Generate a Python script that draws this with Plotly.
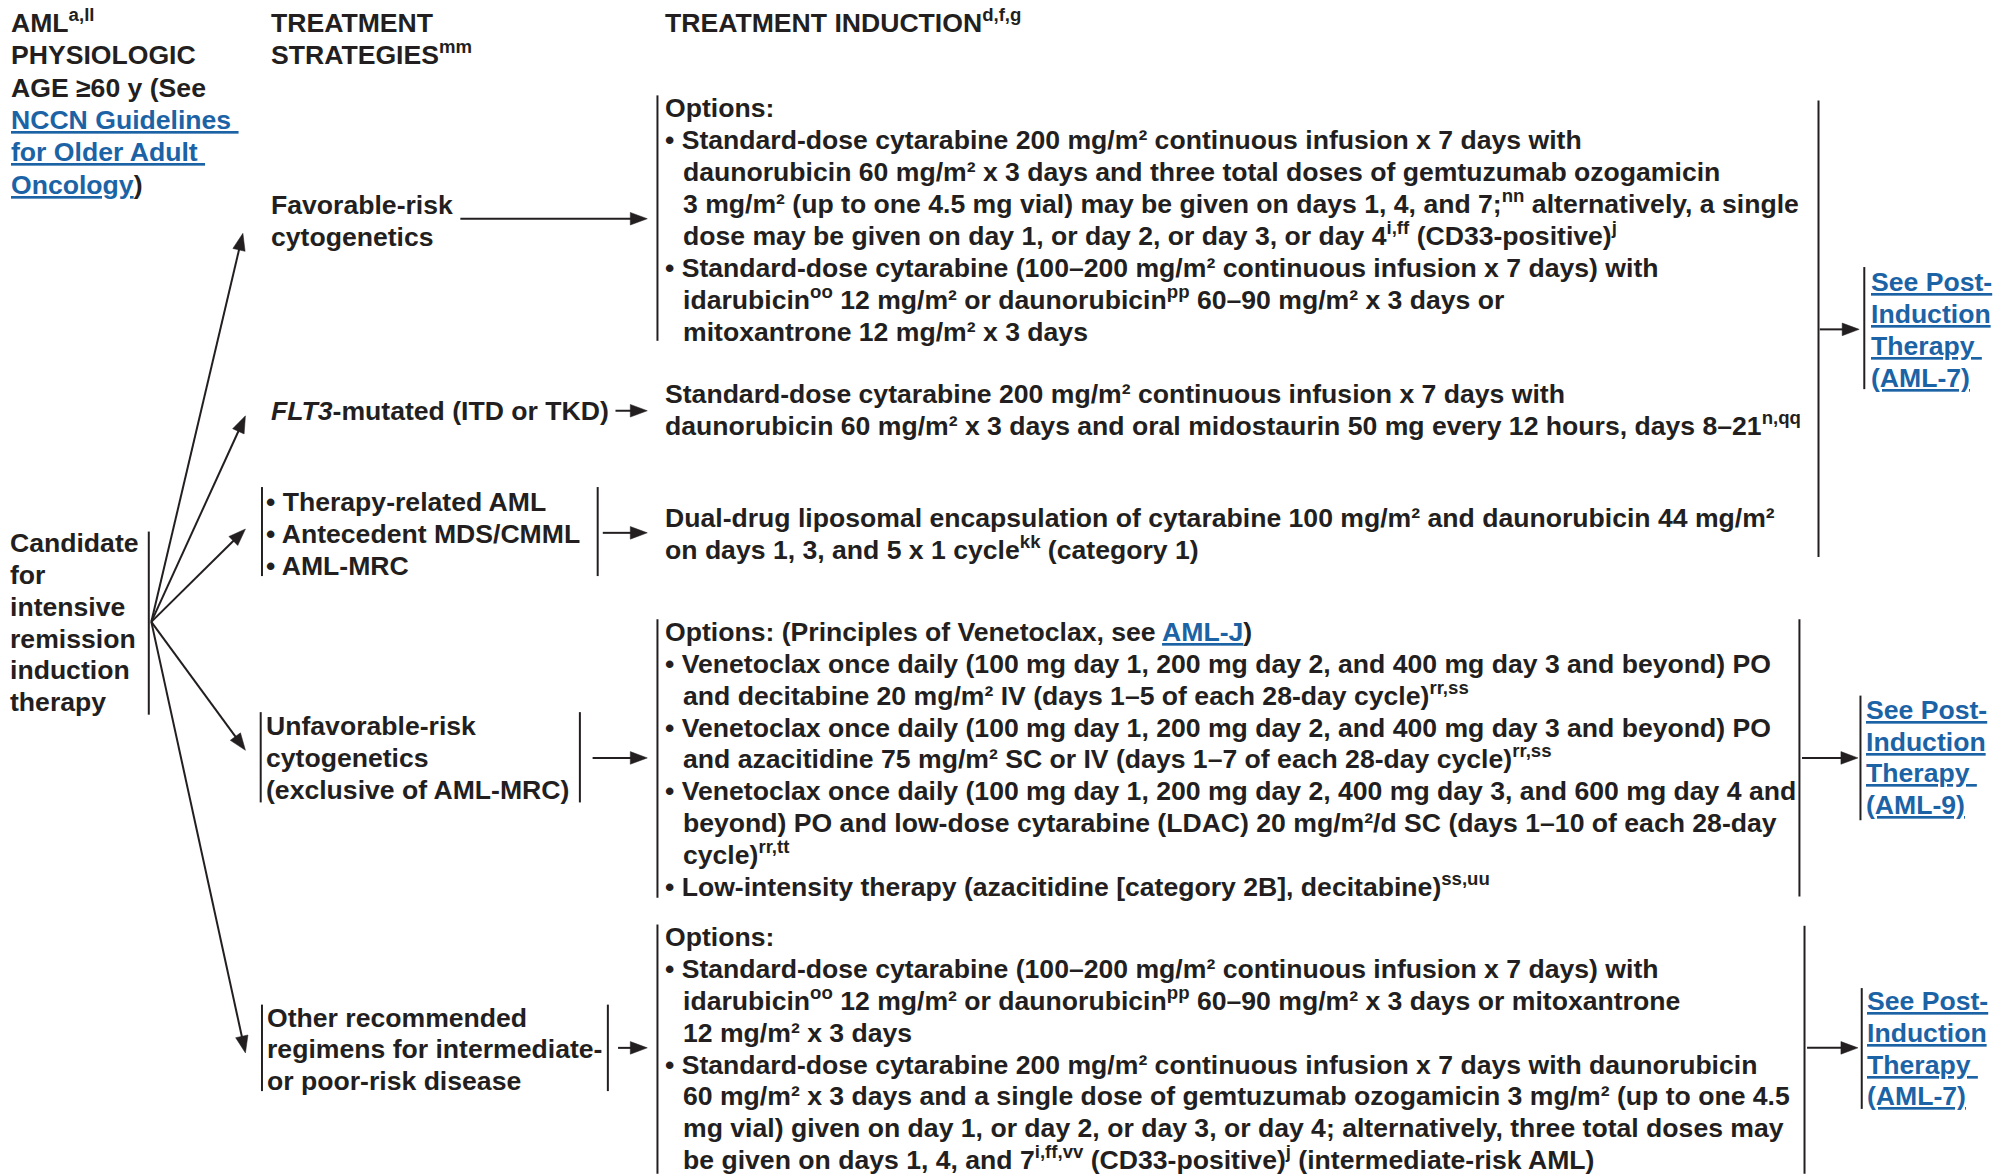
import math
import plotly.graph_objects as go

W, H = 1994, 1174
S = W / 1568.0  # positions below were read on a 1568-wide view of the reference

INK = "#231f20"
LINK = "#1c63a6"
FONT = "Liberation Sans Narrow, Arial Narrow, Liberation Sans, Arial, sans-serif"
FS = 26.6


def link(t):
    return f'<span style="color:{LINK}"><u>{t}</u></span>'


NB = "\u00a0"

# ---------------- text content ----------------
header_col1 = ["AML<sup>a,ll</sup>", "PHYSIOLOGIC", "AGE ≥60 y (See",
               link("NCCN Guidelines" + NB), link("for Older Adult" + NB),
               link("Oncology") + ")"]
header_col2 = ["TREATMENT", "STRATEGIES<sup>mm</sup>"]
header_col3 = ["TREATMENT INDUCTION<sup>d,f,g</sup>"]

root_lines = ["Candidate", "for", "intensive", "remission", "induction", "therapy"]

strat_favorable = ["Favorable-risk", "cytogenetics"]
strat_flt3 = ["<i>FLT3</i>-mutated (ITD or TKD)"]
strat_secondary = ["• Therapy-related AML", "• Antecedent MDS/CMML", "• AML-MRC"]
strat_unfavorable = ["Unfavorable-risk", "cytogenetics", "(exclusive of AML-MRC)"]
strat_other = ["Other recommended", "regimens for intermediate-", "or poor-risk disease"]

# (indent, text): indent 0 = flush, 1 = hanging continuation after a bullet
treat_favorable = [
    (0, "Options:"),
    (0, "• Standard-dose cytarabine 200 mg/m² continuous infusion x 7 days with"),
    (1, "daunorubicin 60 mg/m² x 3 days and three total doses of gemtuzumab ozogamicin"),
    (1, "3 mg/m² (up to one 4.5 mg vial) may be given on days 1, 4, and 7;<sup>nn</sup> alternatively, a single"),
    (1, "dose may be given on day 1, or day 2, or day 3, or day 4<sup>i,ff</sup> (CD33-positive)<sup>j</sup>"),
    (0, "• Standard-dose cytarabine (100–200 mg/m² continuous infusion x 7 days) with"),
    (1, "idarubicin<sup>oo</sup> 12 mg/m² or daunorubicin<sup>pp</sup> 60–90 mg/m² x 3 days or"),
    (1, "mitoxantrone 12 mg/m² x 3 days"),
]
treat_flt3 = [
    (0, "Standard-dose cytarabine 200 mg/m² continuous infusion x 7 days with"),
    (0, "daunorubicin 60 mg/m² x 3 days and oral midostaurin 50 mg every 12 hours, days 8–21<sup>n,qq</sup>"),
]
treat_secondary = [
    (0, "Dual-drug liposomal encapsulation of cytarabine 100 mg/m² and daunorubicin 44 mg/m²"),
    (0, "on days 1, 3, and 5 x 1 cycle<sup>kk</sup> (category 1)"),
]
treat_unfavorable = [
    (0, "Options: (Principles of Venetoclax, see " + link("AML-J") + ")"),
    (0, "• Venetoclax once daily (100 mg day 1, 200 mg day 2, and 400 mg day 3 and beyond) PO"),
    (1, "and decitabine 20 mg/m² IV (days 1–5 of each 28-day cycle)<sup>rr,ss</sup>"),
    (0, "• Venetoclax once daily (100 mg day 1, 200 mg day 2, and 400 mg day 3 and beyond) PO"),
    (1, "and azacitidine 75 mg/m² SC or IV (days 1–7 of each 28-day cycle)<sup>rr,ss</sup>"),
    (0, "• Venetoclax once daily (100 mg day 1, 200 mg day 2, 400 mg day 3, and 600 mg day 4 and"),
    (1, "beyond) PO and low-dose cytarabine (LDAC) 20 mg/m²/d SC (days 1–10 of each 28-day"),
    (1, "cycle)<sup>rr,tt</sup>"),
    (0, "• Low-intensity therapy (azacitidine [category 2B], decitabine)<sup>ss,uu</sup>"),
]
treat_other = [
    (0, "Options:"),
    (0, "• Standard-dose cytarabine (100–200 mg/m² continuous infusion x 7 days) with"),
    (1, "idarubicin<sup>oo</sup> 12 mg/m² or daunorubicin<sup>pp</sup> 60–90 mg/m² x 3 days or mitoxantrone"),
    (1, "12 mg/m² x 3 days"),
    (0, "• Standard-dose cytarabine 200 mg/m² continuous infusion x 7 days with daunorubicin"),
    (1, "60 mg/m² x 3 days and a single dose of gemtuzumab ozogamicin 3 mg/m² (up to one 4.5"),
    (1, "mg vial) given on day 1, or day 2, or day 3, or day 4; alternatively, three total doses may"),
    (1, "be given on days 1, 4, and 7<sup>i,ff,vv</sup> (CD33-positive)<sup>j</sup> (intermediate-risk AML)"),
]
post_aml7 = [link("See Post-"), link("Induction"), link("Therapy" + NB), link("(AML-7)")]
post_aml9 = [link("See Post-"), link("Induction"), link("Therapy" + NB), link("(AML-9)")]

# ---------------- layout (reference coordinates, 1568-wide view) ----------------
# text blocks: (x, first line centre y, line pitch, lines)
text_blocks = [
    (9, 18, 25.4, header_col1),
    (213, 18, 25.2, header_col2),
    (523, 18, 25, header_col3),
    (8, 427, 25, root_lines),
    (213, 161, 25, strat_favorable),
    (213, 323, 25, strat_flt3),
    (209, 395, 25, strat_secondary),
    (209, 571, 25, strat_unfavorable),
    (210, 800, 25, strat_other),
    (1471, 222, 25, post_aml7),
    (1467, 558, 25, post_aml9),
    (1468, 787, 25, post_aml7),
]
option_blocks = [
    (523, 85, 25.1, treat_favorable),
    (523, 310, 25, treat_flt3),
    (523, 407, 25, treat_secondary),
    (523, 497, 25, treat_unfavorable),
    (523, 737, 25, treat_other),
]
HANG = 14  # hanging indent of bullet continuation lines

# vertical rules: (x, y0, y1)
rules = [
    (117, 418, 562),
    (206, 383, 453), (470, 383, 453),
    (205, 560, 631), (456, 560, 631),
    (206, 790, 858), (478, 790, 858),
    (517, 75, 268), (1430, 79, 438), (1466, 210, 306),
    (517, 487, 706), (1415, 487, 705), (1463, 547, 645),
    (517, 727, 923), (1419, 728, 923), (1464, 777, 872),
]

# arrows: (x_from, y_from, x_to, y_to)
fan_origin = (119, 489)
fan_targets = [(191, 183.5), (193, 327), (193, 416), (193, 590), (193, 828)]
h_arrows = [
    (362, 172, 509, 172), (484, 323, 509, 323), (474, 419, 509, 419),
    (466, 596, 509, 596), (486, 824, 509, 824),
    (1431, 259, 1462, 259), (1417, 596, 1461, 596), (1421, 824, 1461, 824),
]

# ---------------- build figure ----------------
fig = go.Figure()
annotations = []
shapes = []

BOTTOM_OFF = 0.57 * FS  # from cap-height middle to bottom of text box


def add_line(x, yc, text):
    px, py = x * S, yc * S + BOTTOM_OFF
    annotations.append(dict(
        x=px / W, y=1 - py / H, xref="paper", yref="paper",
        text=text, showarrow=False, xanchor="left", yanchor="bottom",
        align="left", borderpad=0, borderwidth=0,
        font=dict(family=FONT, size=FS, color=INK, weight="bold"),
    ))


for x, y0, pitch, lines in text_blocks:
    for i, t in enumerate(lines):
        add_line(x, y0 + i * pitch, t)

for x, y0, pitch, lines in option_blocks:
    for i, (ind, t) in enumerate(lines):
        add_line(x + ind * HANG, y0 + i * pitch, t)

for x, y0, y1 in rules:
    shapes.append(dict(type="line", xref="x", yref="y", x0=x * S, x1=x * S,
                       y0=y0 * S, y1=y1 * S, line=dict(color=INK, width=2)))

HEAD_LEN, HEAD_HALF = 17.0, 6.3


def add_arrow(x0, y0, x1, y1):
    X0, Y0, X1, Y1 = x0 * S, y0 * S, x1 * S, y1 * S
    d = math.hypot(X1 - X0, Y1 - Y0)
    ux, uy = (X1 - X0) / d, (Y1 - Y0) / d
    bx, by = X1 - ux * HEAD_LEN, Y1 - uy * HEAD_LEN
    nx, ny = -uy * HEAD_HALF, ux * HEAD_HALF
    shapes.append(dict(type="line", xref="x", yref="y", x0=X0, y0=Y0,
                       x1=bx + ux * 2, y1=by + uy * 2,
                       line=dict(color=INK, width=2)))
    shapes.append(dict(
        type="path", xref="x", yref="y",
        path=f"M{X1:.2f},{Y1:.2f} L{bx + nx:.2f},{by + ny:.2f} "
             f"L{bx - nx:.2f},{by - ny:.2f} Z",
        fillcolor=INK, line=dict(color=INK, width=0.5)))


for tx, ty in fan_targets:
    add_arrow(fan_origin[0], fan_origin[1], tx, ty)
for a in h_arrows:
    add_arrow(*a)

fig.update_layout(
    width=W, height=H, margin=dict(l=0, r=0, t=0, b=0),
    paper_bgcolor="white", plot_bgcolor="white",
    xaxis=dict(range=[0, W], visible=False, fixedrange=True),
    yaxis=dict(range=[H, 0], visible=False, fixedrange=True),
    annotations=annotations, shapes=shapes, showlegend=False,
)

fig.write_html("out.html", post_script="document.body.style.margin='0';",
               config={"displayModeBar": False})
